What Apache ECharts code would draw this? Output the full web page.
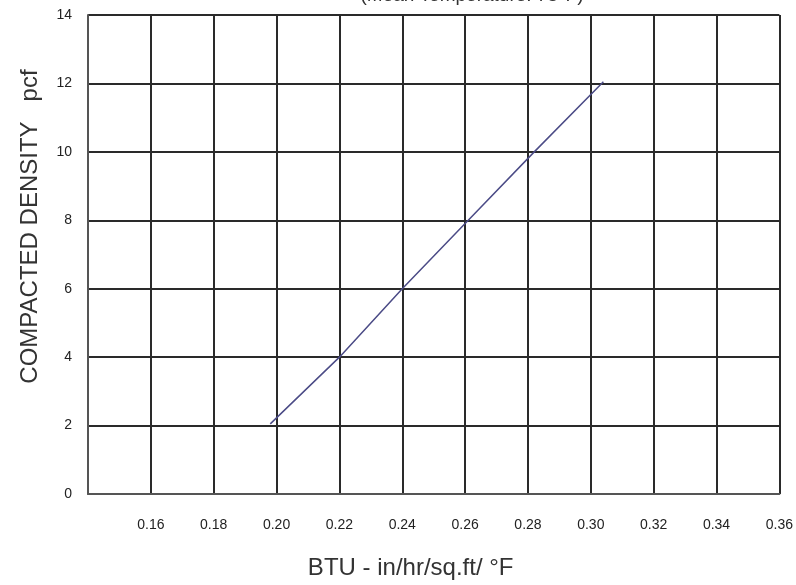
<!DOCTYPE html>
<html>
<head>
<meta charset="utf-8">
<script src="https://cdn.jsdelivr.net/npm/echarts@6/dist/echarts.min.js"></script>
<style>html,body{margin:0;padding:0;background:#fff;}#c{width:796px;height:585px;}</style>
</head>
<body>
<div id="c"></div>
<script>
var titleText = '(Mean Temperature: 75\u00b0F)';
var xName = 'BTU - in/hr/sq.ft/ \u00b0F';
var yName = 'COMPACTED DENSITY   pcf';
var conductivity = [0.198, 0.220, 0.240, 0.261, 0.282, 0.304];
var density = [2.05, 4.0, 6.0, 8.0, 10.0, 12.05];

var chart = echarts.init(document.getElementById('c'));
var pts = conductivity.map(function (x, i) { return [x, density[i]]; });
chart.setOption({
  animation: false,
  backgroundColor: '#fff',
  title: {
    text: titleText, left: 467, top: -19, textAlign: 'center',
    textStyle: {fontFamily: 'Liberation Sans', fontSize: 19, fontWeight: 'normal', color: '#333'}
  },
  grid: {left: 88, right: 13, top: 15, bottom: 91},
  xAxis: {
    type: 'value', min: 0.14, max: 0.36, interval: 0.02,
    name: xName, nameLocation: 'middle', nameGap: 62,
    nameTextStyle: {fontFamily: 'Liberation Sans', fontSize: 24, color: '#333', padding: [0, 46, 0, 0]},
    axisLine: {show: true, lineStyle: {color: '#555', width: 2}},
    axisTick: {show: false},
    axisLabel: {
      margin: 24, fontFamily: 'Liberation Sans', fontSize: 14, color: '#222',
      formatter: function (v) { return Math.abs(v - 0.14) < 1e-6 ? '' : v.toFixed(2); }
    },
    splitLine: {show: true, lineStyle: {color: '#2a2a2a', width: 2}}
  },
  yAxis: {
    type: 'value', min: 0, max: 14, interval: 2,
    name: yName, nameLocation: 'middle', nameGap: 46, nameRotate: 90,
    nameTextStyle: {fontFamily: 'Liberation Sans', fontSize: 24, color: '#333', padding: [0, 0, 0, 56]},
    axisLine: {show: true, lineStyle: {color: '#555', width: 2}},
    axisTick: {show: false},
    axisLabel: {margin: 16, fontFamily: 'Liberation Sans', fontSize: 14, color: '#222'},
    splitLine: {show: true, lineStyle: {color: '#2a2a2a', width: 2}}
  },
  series: [{
    type: 'line', data: pts, symbol: 'none',
    lineStyle: {color: '#4b4b86', width: 1.5}
  }]
});
</script>
</body>
</html>
